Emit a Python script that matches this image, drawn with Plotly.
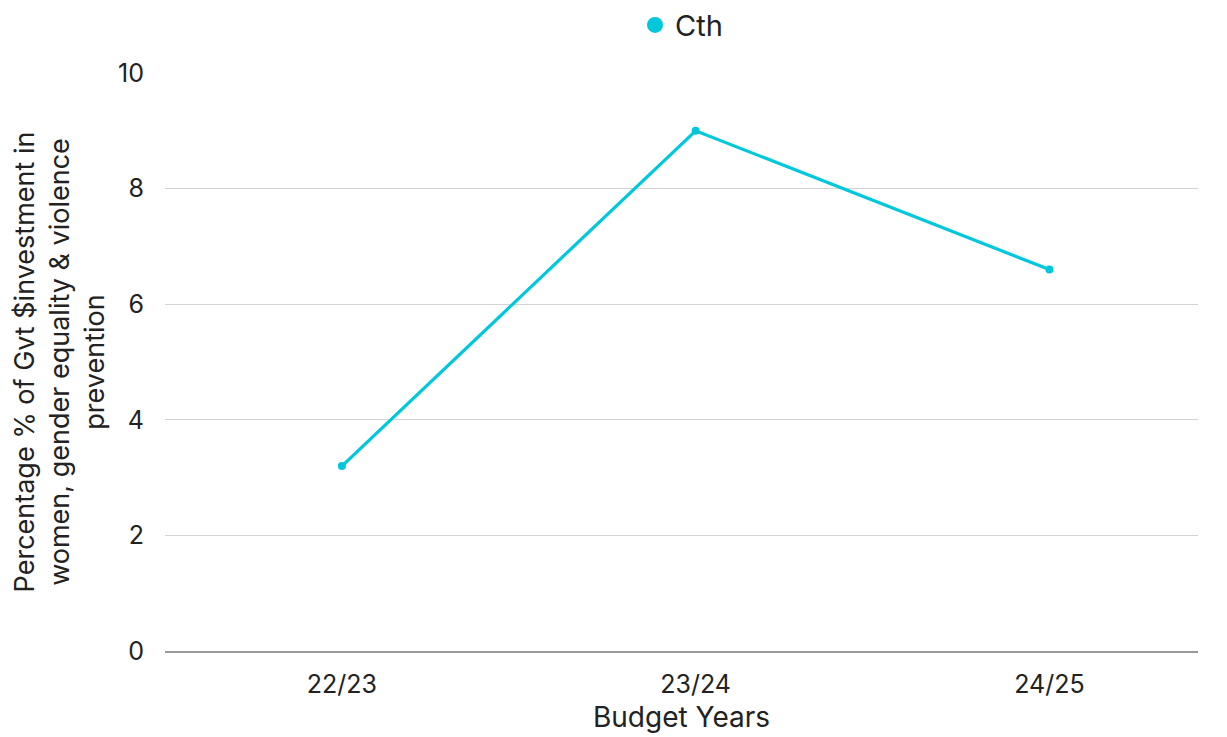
import plotly.graph_objects as go

years = ["22/23", "23/24", "24/25"]
cth_values = [3.2, 9.0, 6.6]
series_name = "Cth"
y_ticks = [0, 2, 4, 6, 8, 10]

color = "#00C8DC"
font_family = "Inter, Noto Sans, sans-serif"

fig = go.Figure()
fig.add_trace(go.Scatter(
    x=years, y=cth_values, mode="lines+markers", name=series_name,
    line=dict(color=color, width=3.2), marker=dict(color=color, size=8),
    showlegend=False,
))
fig.add_trace(go.Scatter(
    x=[None], y=[None], mode="markers", name=series_name,
    marker=dict(color=color, size=26), showlegend=True,
))

fig.update_layout(
    width=1227, height=737,
    paper_bgcolor="white", plot_bgcolor="white",
    margin=dict(l=157, r=37, t=65, b=94, autoexpand=False),
    font=dict(family=font_family, size=24, color="#222222"),
    legend=dict(orientation="h", x=0.5, xanchor="center", y=1.083, yanchor="middle",
                itemsizing="trace", font=dict(size=29)),
    xaxis=dict(
        type="category", range=[-0.5, 2.42], automargin=False,
        showgrid=False, showline=True, linecolor="#999999", linewidth=1.5,
        ticks="outside", ticklen=10, tickcolor="rgba(0,0,0,0)",
        tickfont=dict(size=25),
        title=dict(text="Budget Years", standoff=10, font=dict(size=28)),
    ),
    yaxis=dict(
        range=[0, 10], tickvals=y_ticks, showgrid=True, gridcolor="#d3d3d3",
        zeroline=False, showline=False, ticks="outside", ticklen=15,
        tickcolor="rgba(0,0,0,0)", automargin=False, tickfont=dict(size=25),
        title=dict(text="Percentage % of Gvt $investment in<br>women, gender equality & violence<br>prevention",
                   standoff=24, font=dict(size=27)),
    ),
)

fig.write_html("out.html")
